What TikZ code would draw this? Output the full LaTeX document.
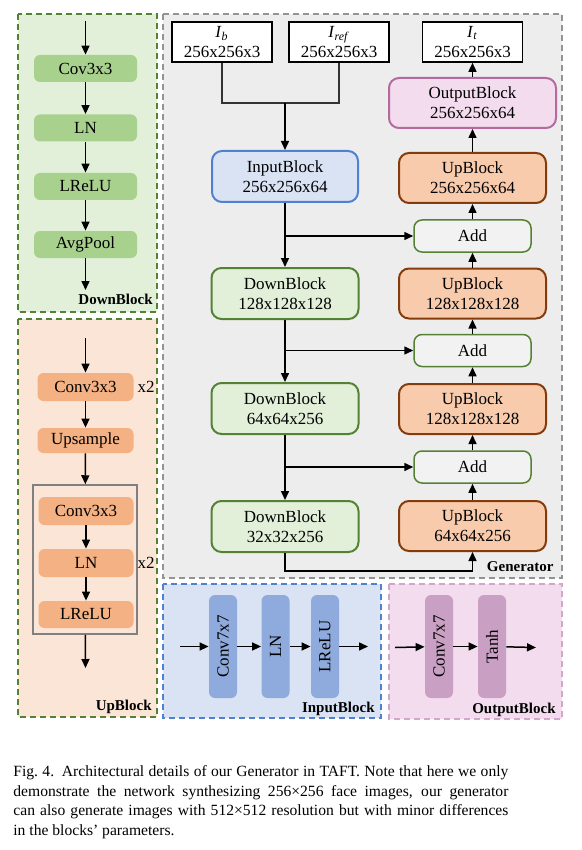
\documentclass[tikz,border=0pt]{standalone}
\usepackage{fontspec}
\setmainfont{Liberation Serif}
\usetikzlibrary{arrows.meta}

\definecolor{dkgreen}{HTML}{548235}
\definecolor{palegreen}{HTML}{E2F0D9}
\definecolor{sidegreen}{HTML}{A9D18E}
\definecolor{paleorange}{HTML}{FBE5D6}
\definecolor{sideorange}{HTML}{F4B183}
\definecolor{upfill}{HTML}{F8CBAD}
\definecolor{updraw}{HTML}{843C0C}
\definecolor{genfill}{HTML}{EDEDED}
\definecolor{gendraw}{HTML}{939393}
\definecolor{addgray}{HTML}{F2F2F2}
\definecolor{inblue}{HTML}{DAE3F3}
\definecolor{indraw}{HTML}{4F81D0}
\definecolor{barblue}{HTML}{8FAADC}
\definecolor{outpink}{HTML}{F2DCED}
\definecolor{outdraw}{HTML}{B46A9E}
\definecolor{paneldrawpink}{HTML}{D3A7C9}
\definecolor{barpink}{HTML}{C9A0C4}

\newcommand{\capline}[1]{\makebox[247.5pt][s]{#1}}

\begin{document}
\begin{tikzpicture}[x=0.5pt,y=-0.5pt,
  font=\fontsize{8.5}{10}\selectfont,
  >={Triangle[length=4.5pt,width=4pt]},
  arr/.style={->,line width=0.75pt},
  panel/.style={dash pattern=on 3pt off 2pt,line width=0.75pt},
  lbl/.style={font=\fontsize{7.5}{9}\selectfont\bfseries,anchor=base east,inner sep=0pt},
  mod/.style={rounded corners=3pt,minimum width=51.5pt,minimum height=13.5pt,inner sep=1pt},
  blk/.style={draw,rounded corners=5pt,line width=1pt,align=center,minimum width=73.5pt,minimum height=25.5pt,inner sep=1pt},
  addbox/.style={draw=dkgreen,fill=addgray,rounded corners=4pt,line width=0.75pt,minimum width=58.5pt,minimum height=16pt},
  imgbox/.style={draw,fill=white,line width=0.8pt,align=center,minimum width=50pt,minimum height=20pt,inner sep=0pt},
  bar/.style={rounded corners=3pt,rotate=90,minimum width=51.5pt,minimum height=14pt,inner sep=1pt}]

  \useasboundingbox (0,0) rectangle (582,850);

  % panels
  \draw[panel,draw=dkgreen,fill=palegreen] (18,14) rectangle (157,312);
  \draw[panel,draw=dkgreen,fill=paleorange] (18,319) rectangle (157,717);
  \draw[panel,draw=gendraw,fill=genfill] (163,14) rectangle (562,578);
  \draw[panel,draw=indraw,fill=inblue] (163,584) rectangle (381,718);
  \draw[panel,draw=paneldrawpink,fill=outpink] (389,584) rectangle (562,719);

  % DownBlock
  \node[mod,fill=sidegreen] (dcv) at (85.5,68.5) {Cov3x3};
  \node[mod,fill=sidegreen] (dln) at (85.5,128) {LN};
  \node[mod,fill=sidegreen] (dlr) at (85.5,186.5) {LReLU};
  \node[mod,fill=sidegreen] (dap) at (85.5,244.5) {AvgPool};
  \coordinate (dtop) at (85.5,21);
  \coordinate (dbot) at (85.5,290);
  \draw[arr] (dtop) -- (dcv);
  \draw[arr] (dcv) -- (dln);
  \draw[arr] (dln) -- (dlr);
  \draw[arr] (dlr) -- (dap);
  \draw[arr] (dap) -- (dbot);
  \node[lbl] (dname) at (153,304) {DownBlock};

  % UpBlock
  \node[mod,fill=sideorange,minimum width=48pt,minimum height=14pt] (ucv1) at (85.5,387) {Conv3x3};
  \node (urep1) at (146,387) {x2};
  \node[mod,fill=sideorange,minimum width=48pt,minimum height=12.5pt] (ups) at (85.5,440.5) {Upsample};
  \node[mod,fill=sideorange,minimum width=47.5pt,minimum height=14pt] (ucv2) at (86,511) {Conv3x3};
  \node[mod,fill=sideorange,minimum width=47.5pt,minimum height=14pt] (uln) at (86,563) {LN};
  \node[mod,fill=sideorange,minimum width=47.5pt,minimum height=13.5pt] (ulr) at (86,614.5) {LReLU};
  \node[draw=gray,line width=0.75pt,minimum width=52pt,minimum height=74.5pt,inner sep=0pt] (ugrp) at (85,559.5) {};
  \node (urep2) at (146,563) {x2};
  \coordinate (utop) at (85.5,338);
  \coordinate (ubot) at (85.5,668);
  \draw[arr] (utop) -- (ucv1);
  \draw[arr] (ucv1) -- (ups);
  \draw[arr] (ups) -- (ugrp);
  \draw[arr] (ucv2) -- (uln);
  \draw[arr] (uln) -- (ulr);
  \draw[arr] (ugrp) -- (ubot);
  \node[lbl] (uname) at (152,710) {UpBlock};

  % Generator
  \node[imgbox] (ib) at (222,42) {\textit{I}\textsubscript{\textit{b}}\\256x256x3};
  \node[imgbox] (iref) at (339,42) {\textit{I}\textsubscript{\textit{ref}}\\256x256x3};
  \node[imgbox] (it) at (472.5,42) {\textit{I}\textsubscript{\textit{t}}\\256x256x3};
  \node[blk,draw=indraw,fill=inblue,minimum width=73pt] (inb) at (285,176.5) {InputBlock\\256x256x64};
  \node[blk,draw=outdraw,fill=outpink,minimum width=83.5pt,minimum height=25pt] (outb) at (472.5,103) {OutputBlock\\256x256x64};
  \node[blk,draw=updraw,fill=upfill,minimum height=25pt] (up1) at (472.5,178) {UpBlock\\256x256x64};
  \node[addbox] (add1) at (472.5,236) {Add};
  \node[blk,draw=dkgreen,fill=palegreen] (db1) at (285,293.5) {DownBlock\\128x128x128};
  \node[blk,draw=updraw,fill=upfill,minimum height=25pt] (up2) at (472.5,293.5) {UpBlock\\128x128x128};
  \node[addbox] (add2) at (472.5,350.5) {Add};
  \node[blk,draw=dkgreen,fill=palegreen] (db2) at (285,408.5) {DownBlock\\64x64x256};
  \node[blk,draw=updraw,fill=upfill,minimum height=25pt] (up3) at (472.5,409) {UpBlock\\128x128x128};
  \node[addbox] (add3) at (472.5,467) {Add};
  \node[blk,draw=dkgreen,fill=palegreen] (db3) at (285,526.5) {DownBlock\\32x32x256};
  \node[blk,draw=updraw,fill=upfill,minimum height=25pt] (up4) at (472.5,526) {UpBlock\\64x64x256};
  \coordinate (mrg) at (285,103);
  \draw[line width=0.75pt,black!80] (ib.south) |- (mrg) -| (iref.south);
  \draw[arr] (mrg) -- (inb);
  \draw[arr] (inb) -- (db1);
  \draw[arr] (db1) -- (db2);
  \draw[arr] (db2) -- (db3);
  \draw[arr] (inb.south |- add1.west) -- (add1.west);
  \draw[arr] (db1.south |- add2.west) -- (add2.west);
  \draw[arr] (db2.south |- add3.west) -- (add3.west);
  \draw[arr] (db3.south) -- ++(0,18) -| (up4.south);
  \draw[arr] (up4) -- (add3);
  \draw[arr] (add3) -- (up3);
  \draw[arr] (up3) -- (add2);
  \draw[arr] (add2) -- (up2);
  \draw[arr] (up2) -- (add1);
  \draw[arr] (add1) -- (up1);
  \draw[arr] (up1) -- (outb);
  \draw[arr] (outb) -- (it);
  \node[lbl] (gname) at (554,571) {Generator};

  % InputBlock
  \node[bar,fill=barblue] (ic7) at (223,646.5) {Conv7x7};
  \node[bar,fill=barblue] (iln) at (275.5,646.5) {LN};
  \node[bar,fill=barblue] (ilr) at (325,646.5) {LReLU};
  \coordinate (iin) at (180,646.5);
  \coordinate (iout) at (368,646.5);
  \draw[arr] (iin) -- (ic7);
  \draw[arr] (ic7) -- (iln);
  \draw[arr] (iln) -- (ilr);
  \draw[arr] (ilr) -- (iout);
  \node[lbl] (iname) at (375,712) {InputBlock};

  % OutputBlock
  \node[bar,fill=barpink] (oc7) at (439,646.5) {Conv7x7};
  \node[bar,fill=barpink] (oth) at (492,646.5) {Tanh};
  \coordinate (oin) at (395,647.5);
  \coordinate (oout) at (536,647.5);
  \draw[arr] (oin) -- (oc7);
  \draw[arr] (oc7) -- (oth);
  \draw[arr] (oth) -- (oout);
  \node[lbl] (oname) at (556,713) {OutputBlock};

  % caption
  \node[anchor=north west,inner sep=0pt,align=left,
    font=\fontsize{7.8}{9.7}\selectfont] (cap) at (13,765.5)
    {\capline{Fig.~4.\enskip Architectural details of our Generator in TAFT. Note that here we only}\\
     \capline{demonstrate the network synthesizing 256×256 face images, our generator}\\
     \capline{can also generate images with 512×512 resolution but with minor differences}\\
     in the blocks’ parameters.};
\end{tikzpicture}
\end{document}
